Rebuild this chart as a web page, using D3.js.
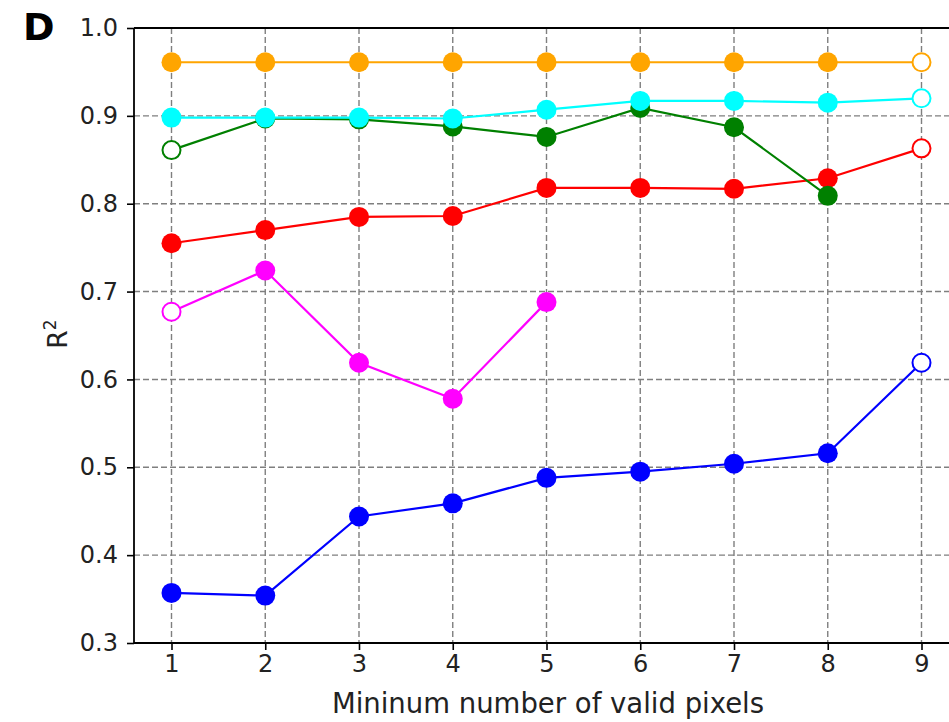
<!DOCTYPE html>
<html>
<head>
<meta charset="utf-8">
<script src="https://cdn.jsdelivr.net/npm/d3@7"></script>
<style>
  body { margin: 0; background: #fff; }
  svg { font-family: "DejaVu Sans", sans-serif; }
</style>
</head>
<body>
<svg width="949" height="722"></svg>
<script>
// x values: minimum number of valid pixels
var xs = [1, 2, 3, 4, 5, 6, 7, 8, 9];
var xTicks = [1, 2, 3, 4, 5, 6, 7, 8, 9];
var yTicks = [0.3, 0.4, 0.5, 0.6, 0.7, 0.8, 0.9, 1.0];

// R2 values for each series
var blueVals    = [0.357, 0.354, 0.444, 0.459, 0.488, 0.495, 0.504, 0.516, 0.619];
var magentaVals = [0.677, 0.724, 0.619, 0.578, 0.688];
var redVals     = [0.755, 0.770, 0.785, 0.786, 0.818, 0.818, 0.817, 0.829, 0.863];
var greenVals   = [0.861, 0.897, 0.896, 0.888, 0.876, 0.909, 0.887, 0.809];
var cyanVals    = [0.898, 0.898, 0.898, 0.897, 0.907, 0.917, 0.917, 0.915, 0.920];
var orangeVals  = [0.961, 0.961, 0.961, 0.961, 0.961, 0.961, 0.961, 0.961, 0.961];

// which points are drawn hollow
var blueOpen    = [9];
var magentaOpen = [1];
var redOpen     = [9];
var greenOpen   = [1];
var cyanOpen    = [9];
var orangeOpen  = [9];

var series = [
  { color: "#0000ff", vals: blueVals, open: blueOpen },
  { color: "#ff00ff", vals: magentaVals, open: magentaOpen },
  { color: "#ff0000", vals: redVals, open: redOpen },
  { color: "#008000", vals: greenVals, open: greenOpen },
  { color: "#00ffff", vals: cyanVals, open: cyanOpen },
  { color: "#ffa500", vals: orangeVals, open: orangeOpen }
];

var svg = d3.select("svg");
var mLeft = 134, mRight = 959, mTop = 28, mBottom = 643;

var x = d3.scaleLinear().domain([0.6, 9.4]).range([mLeft, mRight]);
var y = d3.scaleLinear().domain([0.3, 1.0]).range([mBottom, mTop]);

// grid
var grid = svg.append("g").attr("stroke", "#7f7f7f").attr("stroke-width", 1.4)
  .attr("stroke-dasharray", "6,3");
grid.selectAll(".gx").data(xTicks).enter().append("line")
  .attr("x1", d => x(d)).attr("x2", d => x(d))
  .attr("y1", mTop).attr("y2", mBottom);
grid.selectAll(".gy").data(yTicks).enter().append("line")
  .attr("y1", d => y(d)).attr("y2", d => y(d))
  .attr("x1", mLeft).attr("x2", mRight);

// lines + markers
var line = d3.line().x(d => x(d[0])).y(d => y(d[1]));

series.forEach(function(s) {
  var pts = s.vals.map((v, i) => [xs[i], v]);
  var g = svg.append("g");
  g.append("path")
    .attr("d", line(pts))
    .attr("fill", "none")
    .attr("stroke", s.color)
    .attr("stroke-width", 2.2);
  g.selectAll("circle").data(pts).enter().append("circle")
    .attr("cx", d => x(d[0]))
    .attr("cy", d => y(d[1]))
    .attr("r", d => s.open.indexOf(d[0]) >= 0 ? 9 : 10)
    .attr("fill", d => s.open.indexOf(d[0]) >= 0 ? "#fff" : s.color)
    .attr("stroke", s.color)
    .attr("stroke-width", d => s.open.indexOf(d[0]) >= 0 ? 2 : 0);
});

// axes
var xAxis = svg.append("g").attr("transform", "translate(0," + mBottom + ")")
  .call(d3.axisBottom(x).tickValues(xTicks).tickSize(7).tickPadding(5).tickFormat(d3.format("d")));
var yAxis = svg.append("g").attr("transform", "translate(" + mLeft + ",0)")
  .call(d3.axisLeft(y).tickValues(yTicks).tickSize(7).tickPadding(9).tickFormat(d3.format(".1f")));

[xAxis, yAxis].forEach(function(a) {
  a.select(".domain").remove();
  a.selectAll("line").attr("stroke", "#000").attr("stroke-width", 1.6);
  a.selectAll("text").attr("font-size", 24).attr("fill", "#222")
    .attr("font-family", "DejaVu Sans");
});

// spines (left, top, bottom)
svg.append("line").attr("x1", mLeft).attr("x2", mLeft).attr("y1", mTop).attr("y2", mBottom)
  .attr("stroke", "#000").attr("stroke-width", 1.8);
svg.append("line").attr("x1", mLeft).attr("x2", mRight).attr("y1", mTop).attr("y2", mTop)
  .attr("stroke", "#000").attr("stroke-width", 1.8);
svg.append("line").attr("x1", mLeft).attr("x2", mRight).attr("y1", mBottom).attr("y2", mBottom)
  .attr("stroke", "#000").attr("stroke-width", 1.8);

// labels
svg.append("text")
  .attr("x", 548).attr("y", 713)
  .attr("text-anchor", "middle")
  .attr("font-size", 27.5).attr("fill", "#222")
  .text("Mininum number of valid pixels");

var yl = svg.append("text")
  .attr("transform", "translate(67,334) rotate(-90)")
  .attr("text-anchor", "middle")
  .attr("font-size", 26.5).attr("fill", "#222");
yl.append("tspan").text("R");
yl.append("tspan").attr("font-size", 17).attr("dy", -11).text("2");

svg.append("text")
  .attr("x", 23).attr("y", 40)
  .attr("font-size", 38).attr("font-weight", "bold").attr("fill", "#000")
  .text("D");
</script>
</body>
</html>
